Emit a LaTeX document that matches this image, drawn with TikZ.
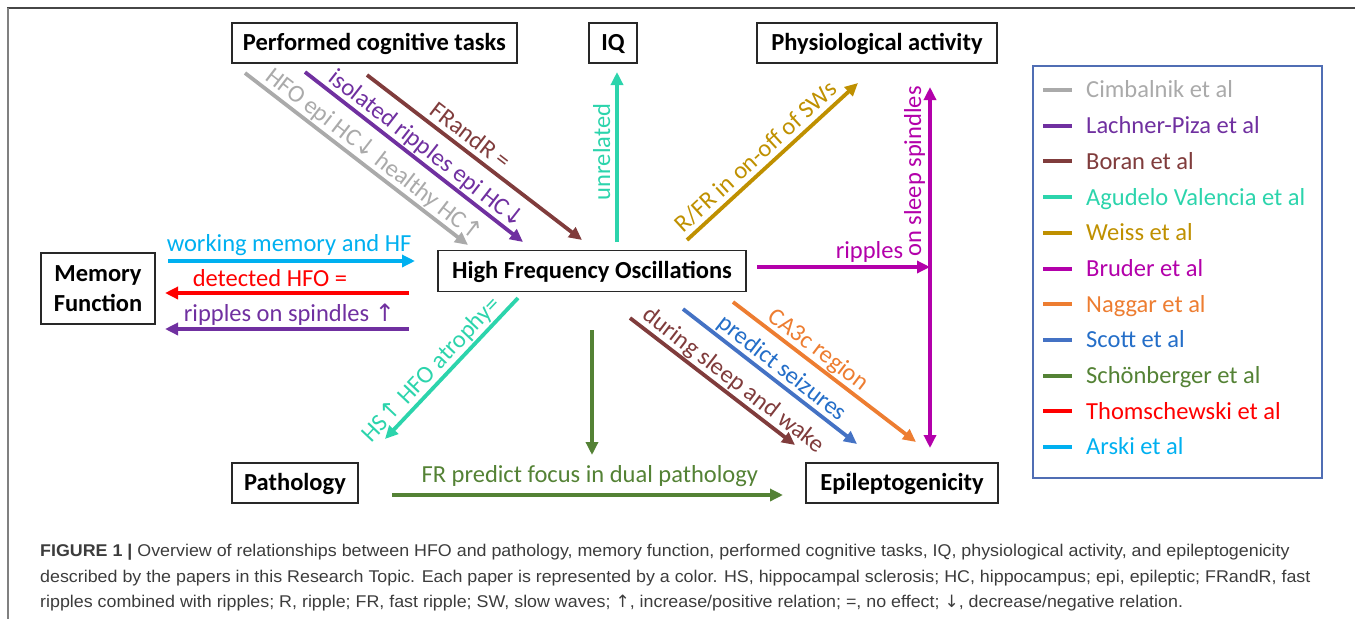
\documentclass[tikz,border=0pt]{standalone}
\usepackage{fontspec}
\setmainfont{Carlito}
\newfontfamily\capfont[FakeStretch=1.05]{Liberation Sans}
\newfontfamily\arrfont{DejaVu Sans}
\usetikzlibrary{arrows.meta}
\definecolor{cimC}{RGB}{170,170,170}
\definecolor{lacC}{RGB}{112,48,160}
\definecolor{borC}{RGB}{128,60,60}
\definecolor{aguC}{RGB}{44,212,172}
\definecolor{weiC}{RGB}{191,144,0}
\definecolor{bruC}{RGB}{179,0,170}
\definecolor{nagC}{RGB}{237,125,49}
\definecolor{scoC}{RGB}{68,114,196}
\definecolor{scoT}{RGB}{36,110,200}
\definecolor{schC}{RGB}{84,130,53}
\definecolor{thoC}{RGB}{255,0,0}
\definecolor{arsC}{RGB}{0,176,240}
\definecolor{boxC}{RGB}{40,40,40}
\definecolor{legC}{RGB}{80,110,180}
\definecolor{capC}{RGB}{60,60,60}
\newcommand{\mydn}{{\arrfont\fontsize{24}{28}\selectfont ↓}}
\newcommand{\myup}{{\arrfont\fontsize{24}{28}\selectfont ↑}}
\newcommand{\capdn}{{\arrfont ↓}}
\newcommand{\capup}{{\arrfont ↑}}
\begin{document}
\begin{tikzpicture}[x=1pt,y=-1pt,
  box/.style={draw=boxC, line width=1.3pt, fill=white,
    font=\bfseries\fontsize{24.5}{29.5}\selectfont, inner sep=0pt,
    minimum height=40pt, text height=15.8pt, text depth=0pt},
  arr/.style={line width=3.8pt, -{Triangle[length=13pt,width=12pt]}},
  lbl/.style={font=\fontsize{24.5}{29.5}\selectfont, inner xsep=0pt,
    inner ysep=7pt, outer sep=0pt, text depth=0pt},
  legtxt/.style={font=\fontsize{24.5}{29.5}\selectfont, inner sep=0pt,
    anchor=west, text height=15.8pt, text depth=0pt},
  legline/.style={line width=4pt},
  captxt/.style={font=\capfont\fontsize{17}{20}\selectfont, text=capC,
    anchor=base west, inner sep=0pt}
]
\useasboundingbox (0,0) rectangle (1355,619);
% frame
\draw[line width=1.6pt, color={rgb,255:red,70;green,70;blue,70}] (7,8) -- (1355,8);
\draw[line width=2pt, color={rgb,255:red,128;green,128;blue,128}] (7.5,8) -- (7.5,619);

% boxes
\node[box, minimum width=285pt] (pct) at (374.5,43) {Performed cognitive tasks};
\node[box, minimum width=48pt] (iq) at (613,43) {IQ};
\node[box, minimum width=240pt] (phy) at (877,43) {Physiological activity};
\node[box, minimum width=114pt, minimum height=71pt, align=center,
  text height=, text depth=] (mem) at (98,288.5) {Memory\\Function};
\node[box, minimum width=308pt, minimum height=41pt] (hfo) at (592,271) {High Frequency Oscillations};
\node[box, minimum width=126pt] (pat) at (295,483) {Pathology};
\node[box, minimum width=192pt] (epi) at (902,483) {Epileptogenicity};

% arrow end points
\coordinate (cimS) at (245,73);  \coordinate (cimE) at (468,245);
\coordinate (lacS) at (305,72);  \coordinate (lacE) at (523,242);
\coordinate (borS) at (367,75);  \coordinate (borE) at (582,240);
\coordinate (aguS) at (617,242); \coordinate (aguE) at (617,72);
\coordinate (weiS) at (687,240); \coordinate (weiE) at (858,83);
\coordinate (bruS) at (757,267); \coordinate (bruJ) at (930,267);
\coordinate (bruU) at (930,87);  \coordinate (bruD) at (930,448);
\coordinate (arsS) at (168,261); \coordinate (arsE) at (415,261);
\coordinate (thoS) at (409,293); \coordinate (thoE) at (165,293);
\coordinate (lacmS) at (409,329); \coordinate (lacmE) at (165,329);
\coordinate (agupS) at (518,298); \coordinate (agupE) at (385,439);
\coordinate (schvS) at (592,330); \coordinate (schvE) at (592,455);
\coordinate (schhS) at (392,495); \coordinate (schhE) at (783,495);
\coordinate (boreS) at (630,318); \coordinate (boreE) at (795,445);
\coordinate (scoS) at (683,309); \coordinate (scoE) at (857,444);
\coordinate (nagS) at (733,302); \coordinate (nagE) at (916,442);

% top arrows
\draw[arr, color=cimC] (cimS) -- (cimE)
  node[lbl, sloped, above, pos=0.54] {HFO epi HC\mydn\ healthy HC\myup};
\draw[arr, color=lacC] (lacS) -- (lacE)
  node[lbl, sloped, above, pos=0.52] {isolated ripples epi HC\mydn};
\draw[arr, color=borC] (borS) -- (borE)
  node[lbl, sloped, above, pos=0.44] {FRandR =};
\draw[arr, color=aguC] (aguS) -- (aguE)
  node[lbl, sloped, above, pos=0.53] {unrelated};
\draw[arr, color=weiC] (weiS) -- (weiE)
  node[lbl, sloped, above, pos=0.46] {R/FR in on-off of SWs};
\draw[arr, color=bruC] (bruS) -- (bruJ)
  node[lbl, above, pos=0.65, inner ysep=9pt] {ripples};
\draw[arr, color=bruC] (bruJ) -- (bruU)
  node[lbl, sloped, above, pos=0.53, inner ysep=9pt] {on sleep spindles};
\draw[arr, color=bruC] (bruJ) -- (bruD);

% memory arrows
\draw[arr, color=arsC] (arsS) -- (arsE)
  node[lbl, above, pos=0.49, inner ysep=10pt] {working memory and HF};
\draw[arr, color=thoC] (thoS) -- (thoE)
  node[lbl, above, pos=0.57] {detected HFO =};
\draw[arr, color=lacC] (lacmS) -- (lacmE)
  node[lbl, above, pos=0.49, inner ysep=7.5pt] {ripples on spindles \myup};

% bottom arrows
\draw[arr, color=aguC] (agupS) -- (agupE)
  node[lbl, sloped, above, pos=0.575] {HS\myup\ HFO atrophy=};
\draw[arr, color=schC] (schvS) -- (schvE);
\draw[arr, color=schC] (schhS) -- (schhE)
  node[lbl, above, pos=0.506, inner ysep=12.5pt] {FR predict focus in dual pathology};
\draw[arr, color=borC] (boreS) -- (boreE)
  node[lbl, sloped, above, pos=0.577] {during sleep and wake};
\draw[arr, color=scoC] (scoS) -- (scoE)
  node[lbl, sloped, above, pos=0.52, text=scoT] {predict seizures};
\draw[arr, color=nagC] (nagS) -- (nagE)
  node[lbl, sloped, above, pos=0.42] {CA3c region};

% legend
\node[draw=legC, line width=1.3pt, minimum width=289pt, minimum height=412pt, inner sep=0pt]
  (legend) at (1177.5,272) {};
\foreach \n/\c/\tc/\t [count=\i from 0] in {
  l1/cimC/cimC/{Cimbalnik et al}, l2/lacC/lacC/{Lachner-Piza et al}, l3/borC/borC/{Boran et al},
  l4/aguC/aguC/{Agudelo Valencia et al}, l5/weiC/weiC/{Weiss et al}, l6/bruC/bruC/{Bruder et al},
  l7/nagC/nagC/{Naggar et al}, l8/scoC/scoT/{Scott et al}, l9/schC/schC/{Schönberger et al},
  l10/thoC/thoC/{Thomschewski et al}, l11/arsC/arsC/{Arski et al}}{
  \pgfmathsetmacro{\yy}{90+35.7*\i}
  \draw[legline, color=\c] (1043,\yy) -- (1072,\yy);
  \node[legtxt, text=\tc] (\n) at (1086,\yy) {\t};
}

% caption
\node[captxt] (cap1) at (40,556) {\textbf{FIGURE 1 |} Overview of relationships between HFO and pathology, memory function, performed cognitive tasks, IQ, physiological activity, and epileptogenicity};
\node[captxt] (cap2) at (40,582) {described by the papers in this Research Topic. Each paper is represented by a color. HS, hippocampal sclerosis; HC, hippocampus; epi, epileptic; FRandR, fast};
\node[captxt] (cap3) at (40,607) {ripples combined with ripples; R, ripple; FR, fast ripple; SW, slow waves; \capup, increase/positive relation; =, no effect; \capdn, decrease/negative relation.};
\end{tikzpicture}
\end{document}
